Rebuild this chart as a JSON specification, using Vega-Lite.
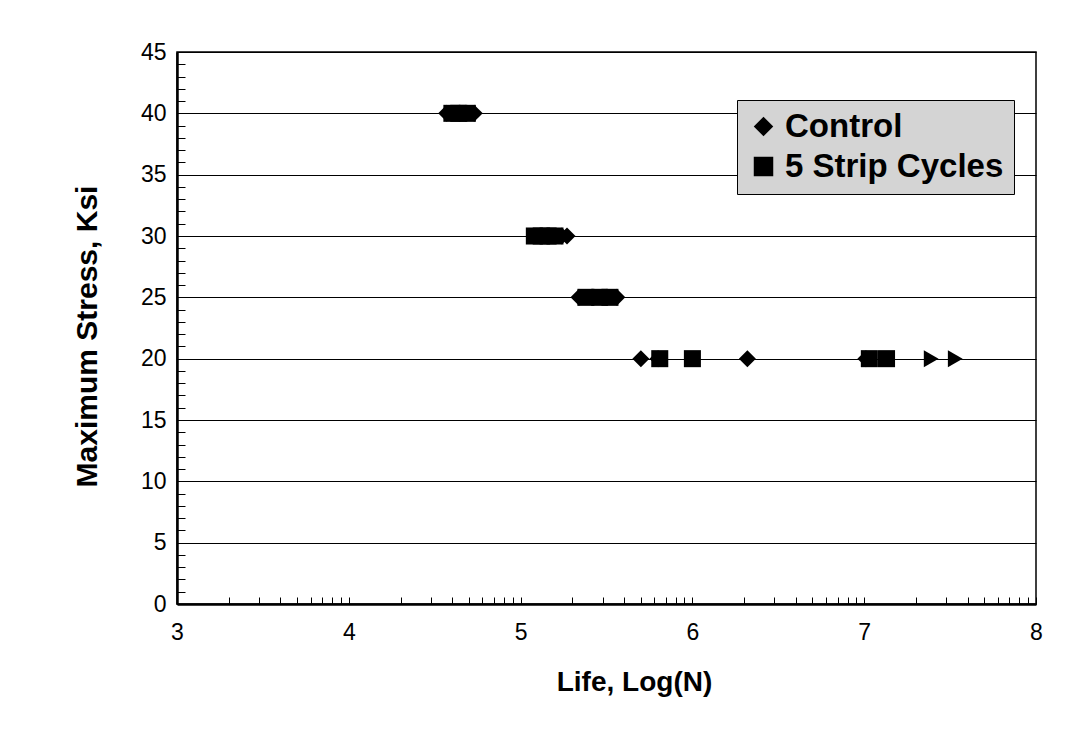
{
  "$schema": "https://vega.github.io/schema/vega-lite/v6.json",
  "width": 859,
  "height": 552,
  "autosize": {"type": "none"},
  "padding": {"left": 177, "top": 52, "right": 40, "bottom": 144},
  "background": "white",
  "config": {
    "font": "Liberation Sans",
    "view": {"stroke": "black", "strokeWidth": 1.5},
    "point": {"opacity": 1}
  },
  "data": {
    "values": [
      {"life": 4.57, "stress": 40, "series": "Control"},
      {"life": 4.68, "stress": 40, "series": "Control"},
      {"life": 4.73, "stress": 40, "series": "Control"},
      {"life": 5.17, "stress": 30, "series": "Control"},
      {"life": 5.24, "stress": 30, "series": "Control"},
      {"life": 5.27, "stress": 30, "series": "Control"},
      {"life": 5.34, "stress": 25, "series": "Control"},
      {"life": 5.42, "stress": 25, "series": "Control"},
      {"life": 5.50, "stress": 25, "series": "Control"},
      {"life": 5.56, "stress": 25, "series": "Control"},
      {"life": 5.70, "stress": 20, "series": "Control"},
      {"life": 5.80, "stress": 20, "series": "Control"},
      {"life": 6.32, "stress": 20, "series": "Control"},
      {"life": 7.01, "stress": 20, "series": "Control"},
      {"life": 4.60, "stress": 40, "series": "5 Strip Cycles"},
      {"life": 4.64, "stress": 40, "series": "5 Strip Cycles"},
      {"life": 4.69, "stress": 40, "series": "5 Strip Cycles"},
      {"life": 5.08, "stress": 30, "series": "5 Strip Cycles"},
      {"life": 5.12, "stress": 30, "series": "5 Strip Cycles"},
      {"life": 5.16, "stress": 30, "series": "5 Strip Cycles"},
      {"life": 5.20, "stress": 30, "series": "5 Strip Cycles"},
      {"life": 5.38, "stress": 25, "series": "5 Strip Cycles"},
      {"life": 5.46, "stress": 25, "series": "5 Strip Cycles"},
      {"life": 5.52, "stress": 25, "series": "5 Strip Cycles"},
      {"life": 5.81, "stress": 20, "series": "5 Strip Cycles"},
      {"life": 6.00, "stress": 20, "series": "5 Strip Cycles"},
      {"life": 7.03, "stress": 20, "series": "5 Strip Cycles"},
      {"life": 7.13, "stress": 20, "series": "5 Strip Cycles"},
      {"life": 7.39, "stress": 20, "series": "Runout"},
      {"life": 7.53, "stress": 20, "series": "Runout"}
    ]
  },
  "mark": {"type": "point", "filled": true, "color": "black", "size": 290},
  "encoding": {
    "x": {
      "field": "life",
      "type": "quantitative",
      "scale": {"domain": [3, 8], "nice": false, "zero": false},
      "axis": {
        "title": "Life, Log(N)",
        "titleFont": "Liberation Sans",
        "titleFontSize": 28,
        "titleFontWeight": "bold",
        "titleColor": "black",
        "titlePadding": 24,
        "titleX": 457,
        "values": [3, 3.301, 3.477, 3.602, 3.699, 3.778, 3.845, 3.903, 3.954, 4, 4.301, 4.477, 4.602, 4.699, 4.778, 4.845, 4.903, 4.954, 5, 5.301, 5.477, 5.602, 5.699, 5.778, 5.845, 5.903, 5.954, 6, 6.301, 6.477, 6.602, 6.699, 6.778, 6.845, 6.903, 6.954, 7, 7.301, 7.477, 7.602, 7.699, 7.778, 7.845, 7.903, 7.954, 8],
        "format": ".0f",
        "labelExpr": "datum.value % 1 === 0 ? datum.label : ''",
        "labelOverlap": false,
        "labelFlush": false,
        "labelFontSize": 23,
        "labelColor": "black",
        "labelPadding": 24,
        "tickSize": -7,
        "tickColor": "black",
        "domainColor": "black",
        "domainWidth": 2.5,
        "grid": false
      }
    },
    "y": {
      "field": "stress",
      "type": "quantitative",
      "scale": {"domain": [0, 45], "nice": false},
      "axis": {
        "title": "Maximum Stress, Ksi",
        "titleFont": "Liberation Sans",
        "titleFontSize": 30,
        "titleFontWeight": "bold",
        "titleColor": "black",
        "titlePadding": 38,
        "titleY": 284,
        "values": [0,1,2,3,4,5,6,7,8,9,10,11,12,13,14,15,16,17,18,19,20,21,22,23,24,25,26,27,28,29,30,31,32,33,34,35,36,37,38,39,40,41,42,43,44,45],
        "labelExpr": "datum.value % 5 === 0 ? datum.label : ''",
        "labelOverlap": false,
        "labelFlush": false,
        "labelFontSize": 23,
        "labelColor": "black",
        "labelPadding": 19,
        "tickSize": -8,
        "tickColor": "black",
        "domainColor": "black",
        "domainWidth": 2.5,
        "grid": true,
        "gridColor": "black",
        "gridWidth": 1,
        "gridOpacity": {"condition": {"test": "datum.value % 5 === 0", "value": 1}, "value": 0}
      }
    },
    "shape": {
      "field": "series",
      "type": "nominal",
      "scale": {"domain": ["Control", "5 Strip Cycles", "Runout"], "range": ["diamond", "square", "triangle-right"]},
      "legend": {
        "values": ["Control", "5 Strip Cycles"],
        "title": null,
        "orient": "none",
        "legendX": 560,
        "legendY": 48,
        "fillColor": "#d4d4d4",
        "strokeColor": "black",
        "padding": 10,
        "labelFont": "Liberation Sans",
        "labelFontSize": 33,
        "labelFontWeight": "bold",
        "labelColor": "black",
        "labelLimit": 400,
        "symbolSize": 380,
        "symbolFillColor": "black",
        "symbolStrokeColor": "black",
        "rowPadding": 6,
        "labelOffset": 5
      }
    },
    "order": {"field": "series", "sort": "descending"}
  }
}
